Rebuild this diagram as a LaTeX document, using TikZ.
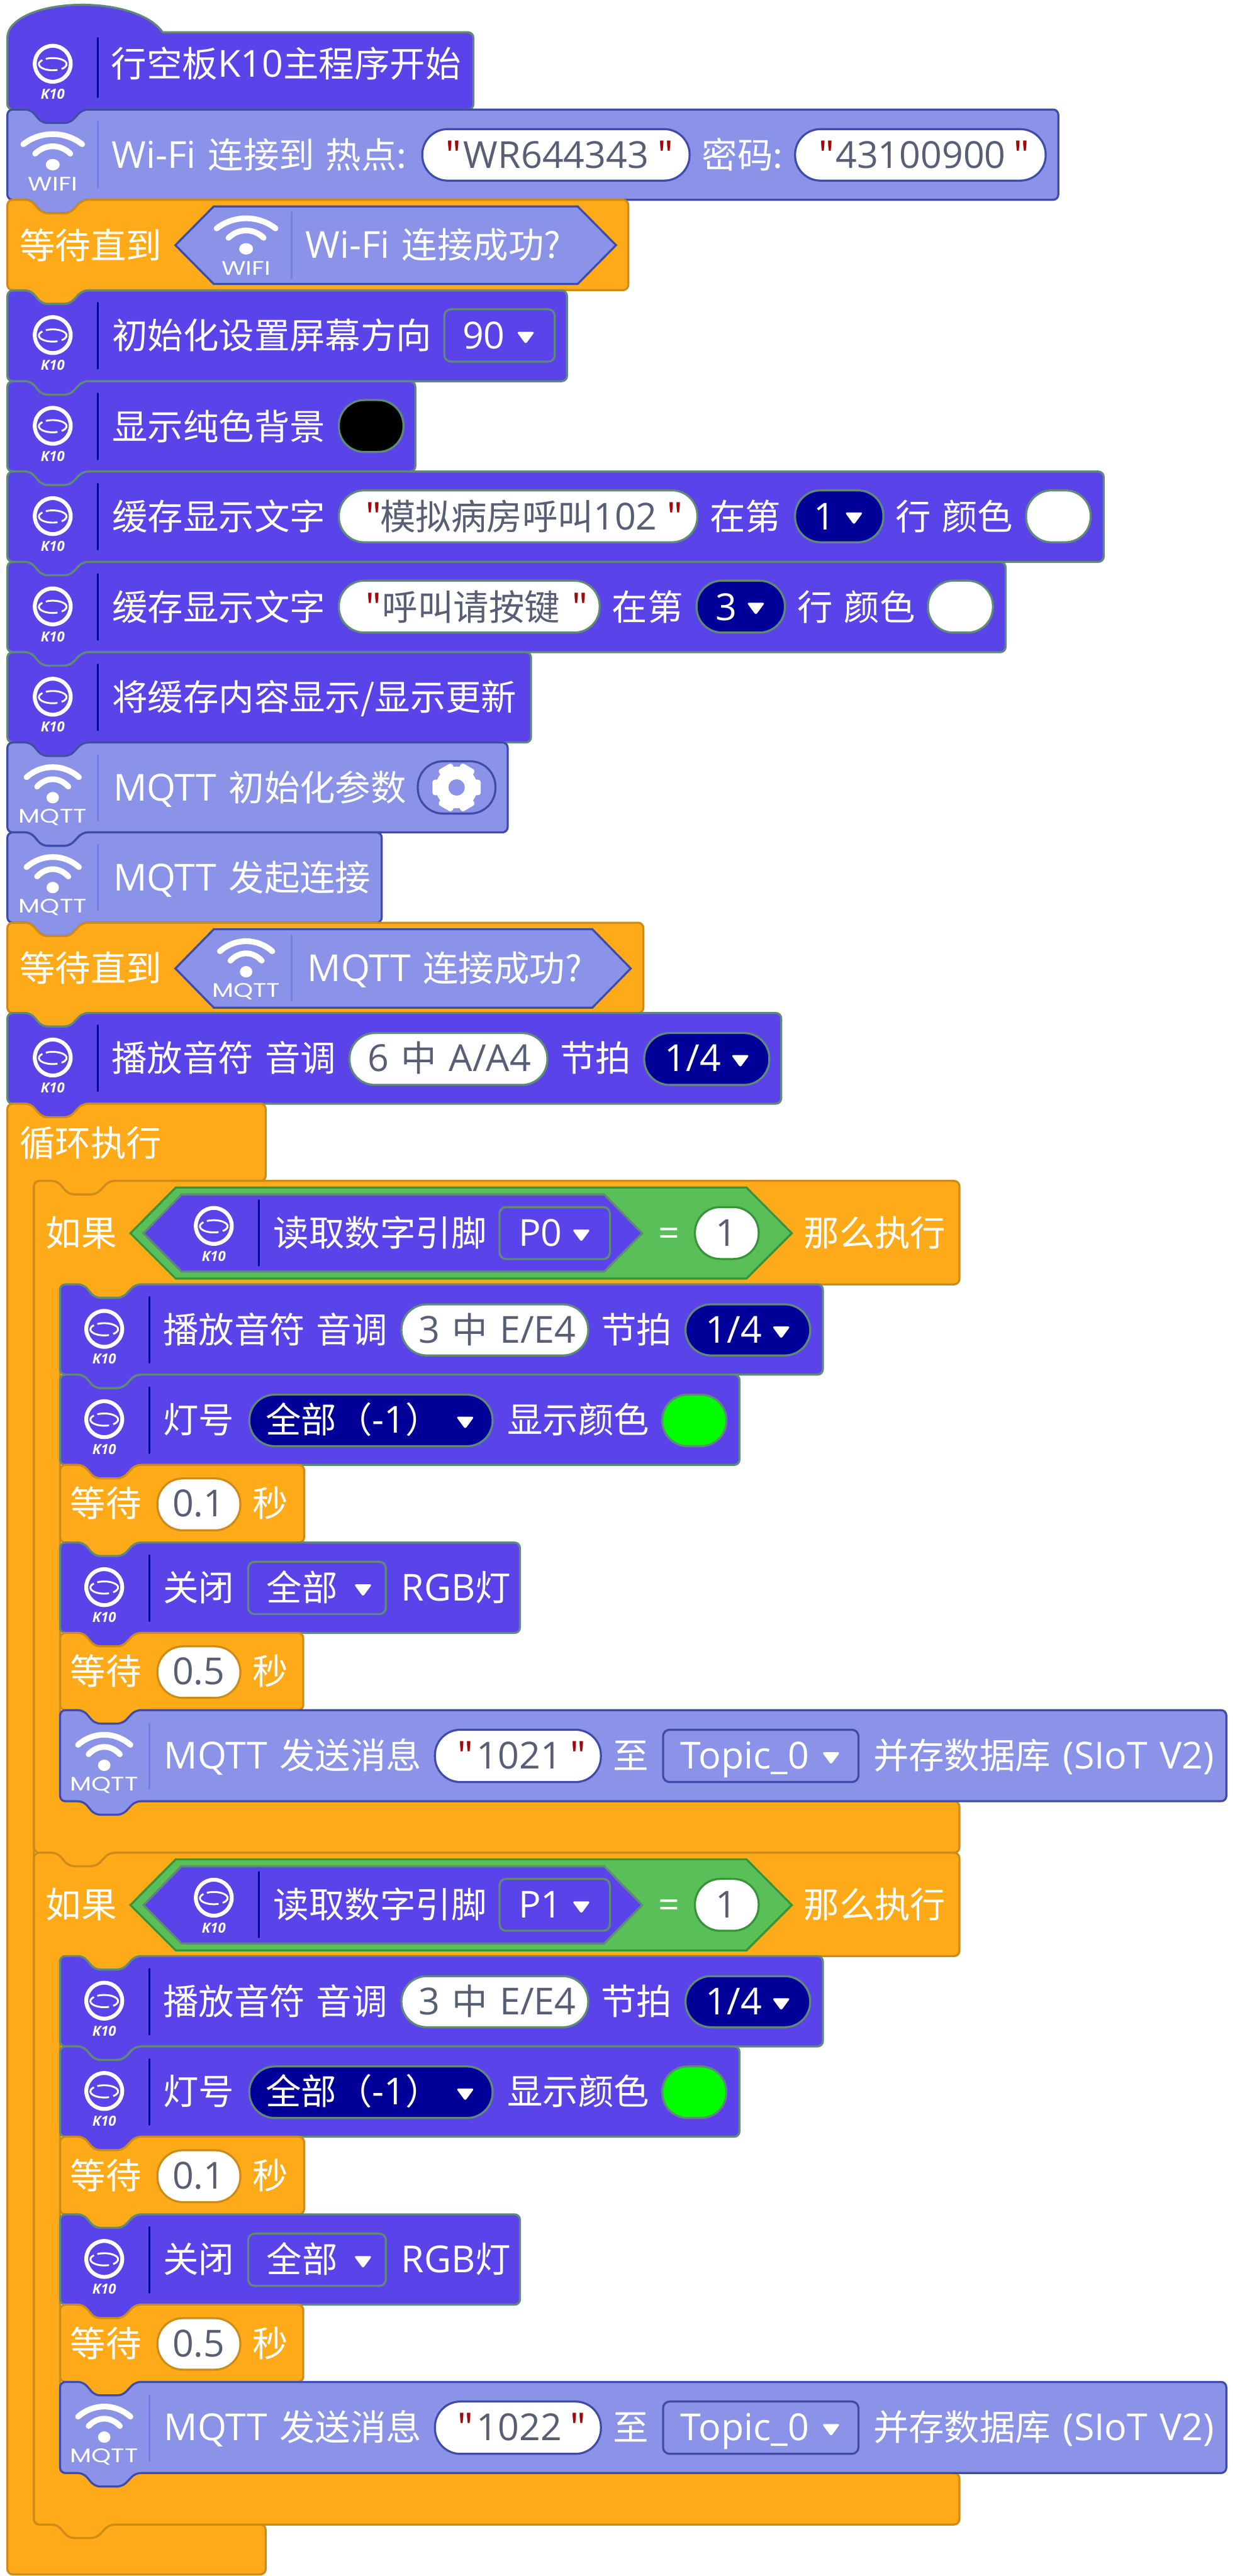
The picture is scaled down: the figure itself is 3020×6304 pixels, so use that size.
\documentclass[tikz,border=0pt]{standalone}
\usepackage{graphicx}
\usepackage{fontspec}
\setmainfont[WordSpace=1.25]{Open Sans}
\newfontfamily\cjk[Scale=0.955,WordSpace=1.4]{Noto Sans CJK SC}
\newfontfamily\iconfont{Poppins}
\definecolor{purp}{HTML}{5B43EA}
\definecolor{purpb}{HTML}{5F8A78}
\definecolor{wifi}{HTML}{8B93E8}
\definecolor{wifib}{HTML}{3F4BA8}
\definecolor{ora}{HTML}{FFAB19}
\definecolor{orab}{HTML}{CF8B17}
\definecolor{grn}{HTML}{59C059}
\definecolor{grnb}{HTML}{389438}
\definecolor{navy}{HTML}{000099}
\definecolor{strtxt}{HTML}{575E75}
\definecolor{quo}{HTML}{A00A0A}
\definecolor{dvw}{HTML}{7180E0}
\definecolor{lime2}{HTML}{00FF00}
\newcounter{nid}
\newcommand\C[1]{{\cjk #1}}
\newcommand\T[4][white]{\stepcounter{nid}\node[lab,text=#1] (n\arabic{nid}) at (#2,#3) {#4};}
\newcommand\TC[4][strtxt]{\stepcounter{nid}\node[labc,text=#1] (n\arabic{nid}) at (#2,#3) {#4};}
\newcommand\Q[2]{\T[quo]{#1}{#2}{\C{"}}}
\newcommand\blk[5]{\draw[#1,rounded corners=13] (#2,{#3+60}) -- (#2,#3) -- ({#2+57},#3) -- ({#2+85},{#3+33}) -- ({#2+153},{#3+33}) -- ({#2+184},#3) -- (#4,#3) -- (#4,#5) -- ({#2+184},#5) -- ({#2+153},{#5+33}) -- ({#2+85},{#5+33}) -- ({#2+57},#5) -- (#2,#5) -- cycle;}
\newcommand\kicon[2]{%
  \draw[white,line width=9.5] (#1,{#2+109}) circle (44);
  \begin{scope}[shift={(#1,{#2+110})}]
    \draw[white,line width=4.5] (240:34 and 15) arc[start angle=240,end angle=410,x radius=34,y radius=15];
    \draw[white,line width=4.5] (70:34 and 15) arc[start angle=70,end angle=222,x radius=34,y radius=15];
  \end{scope}
  \stepcounter{nid}\node[inner sep=0,text=white,font=\fontsize{34}{36}\selectfont\bfseries\itshape] (n\arabic{nid}) at (#1,{#2+183}) {K10};}
\newcommand\wicon[4]{%
  \begin{scope}[shift={(#1,#2)},xscale=#4]
    \draw[white,line width=14,line cap=round] (-72,85) .. controls (-30,52) and (30,52) .. (72,85);
    \draw[white,line width=14,line cap=round] (-43,108) .. controls (-18,84) and (18,84) .. (43,108);
    \fill[white] (0,135) ellipse (17 and 14);
  \end{scope}
  \stepcounter{nid}\node[inner sep=0,text=white,font=\fontsize{48}{50}\iconfont\selectfont] (n\arabic{nid}) at (#1,{#2+183}) {\scalebox{1.27}[1]{#3}};}
\newcommand\dvp[3]{\draw[navy,line width=4.5,line cap=round] (#1,#2) -- (#1,#3);}
\newcommand\dvq[3]{\draw[dvw,line width=4.5,line cap=round] (#1,#2) -- (#1,#3);}
\newcommand\pill[6]{\draw[line width=5,fill=#1,draw=#2,rounded corners=62] (#3,#4) rectangle (#5,#6);}
\newcommand\sq[6]{\draw[line width=5,fill=#1,draw=#2,rounded corners=16] (#3,#4) rectangle (#5,#6);}
\newcommand\tri[2]{\fill[white,rounded corners=5] ({#1-22},{#2-9}) -- ({#1+22},{#2-9}) -- (#1,{#2+21}) -- cycle;}
\newcommand\ifgroup[3]{%
\begin{scope}[yshift=#1]
  % if C-block
  \draw[blockO,rounded corners=13] (83,2950) -- (83,2890) -- (140,2890) -- (168,2923) -- (236,2923) -- (267,2890) -- (2347,2890) -- (2347,3143) -- (331,3143) -- (300,3176) -- (232,3176) -- (204,3143) -- (147,3143) -- (147,4408) -- (2347,4408) -- (2347,4534) -- (267,4534) -- (236,4567) -- (168,4567) -- (140,4534) -- (83,4534) -- cycle;
  \T{112}{3050}{\C{如果}}
  \draw[line width=5,fill=grn,draw=grnb,line join=miter] (319,3018) -- (430,2906) -- (1826,2906) -- (1937,3018) -- (1826,3129) -- (430,3129) -- cycle;
  \draw[line width=5,fill=purp,draw=purpb] (351,3018) -- (444,2923) -- (1478,2923) -- (1571,3018) -- (1478,3112) -- (444,3112) -- cycle;
  \kicon{523}{2891}
  \dvp{634}{2937}{3097}
  \T{669}{3050}{\C{读取数字引脚}}
  \sq{purp}{purpb}{1222}{2954}{1492}{3081}
  \T{1268}{3050}{#2}
  \tri{1422}{3018}
  \TC[white]{1636}{3050}{=}
  \pill{white}{grnb}{1700}{2954}{1856}{3081}
  \TC{1776}{3050}{1}
  \T{1966}{3050}{\C{那么执行}}
  % play note
  \blk{blockP}{147}{3143}{2013}{3364}
  \kicon{255}{3143}
  \dvp{366}{3174}{3335}
  \T{399}{3286}{\C{播放音符 音调}}
  \pill{white}{purpb}{982}{3192}{1439}{3317}
  \T[strtxt]{1024}{3286}{3 \C{中} E/E4}
  \T{1470}{3286}{\C{节拍}}
  \pill{navy}{purpb}{1677}{3192}{1982}{3317}
  \T{1726}{3286}{1/4}
  \tri{1911}{3255}
  % light
  \blk{blockP}{147}{3364}{1809}{3585}
  \kicon{255}{3364}
  \dvp{366}{3395}{3556}
  \T{399}{3507}{\C{灯号}}
  \pill{navy}{purpb}{610}{3413}{1205}{3539}
  \T{650}{3507}{\C{全部（}-1\C{）}}
  \tri{1138}{3476}
  \T{1241}{3507}{\C{显示颜色}}
  \pill{lime2}{purpb}{1620}{3413}{1777}{3539}
  % wait
  \blk{blockO}{147}{3585}{744}{3775}
  \T{172}{3712}{\C{等待}}
  \pill{white}{orab}{385}{3618}{588}{3745}
  \TC{486}{3712}{0.1}
  \T{617}{3712}{\C{秒}}
  % off
  \blk{blockP}{147}{3775}{1272}{3996}
  \kicon{255}{3775}
  \dvp{366}{3806}{3967}
  \T{399}{3918}{\C{关闭}}
  \sq{purp}{purpb}{607}{3822}{944}{3950}
  \T{652}{3918}{\C{全部}}
  \tri{888}{3886}
  \T{981}{3918}{RGB\C{灯}}
  % wait
  \blk{blockO}{147}{3996}{742}{4185}
  \T{172}{4123}{\C{等待}}
  \pill{white}{orab}{385}{4029}{588}{4155}
  \TC{486}{4123}{0.5}
  \T{617}{4123}{\C{秒}}
  % send
  \blk{blockW}{147}{4185}{3000}{4408}
  \wicon{255}{4185}{MQTT}{0.89}
  \dvq{366}{4217}{4378}
  \T{401}{4328}{MQTT \C{发送消息}}
  \pill{white}{wifib}{1064}{4233}{1470}{4361}
  \Q{1118}{4328}
  \T[strtxt]{1166}{4328}{#3}
  \Q{1394}{4328}
  \T{1500}{4328}{\C{至}}
  \sq{wifi}{wifib}{1622}{4233}{2100}{4361}
  \T{1665}{4328}{Topic\_0}
  \tri{2033}{4297}
  \T{2136}{4328}{\C{并存数据库} (SIoT V2)}
\end{scope}}
\tikzset{
  lab/.style={anchor=base west,inner sep=0,font=\fontsize{91}{100}\selectfont},
  labc/.style={anchor=base,inner sep=0,font=\fontsize{91}{100}\selectfont},
  blockP/.style={line width=5,fill=purp,draw=purpb},
  blockW/.style={line width=5,fill=wifi,draw=wifib},
  blockO/.style={line width=5,fill=ora,draw=orab}
}
\begin{document}
\begin{tikzpicture}[x=1pt,y=-1pt]
\useasboundingbox (0,0) rectangle (3020,6304);
% row 1 hat
\draw[blockP,rounded corners=13] (18,120) -- (18,79) [sharp corners] .. controls (80,-9) and (336,-9) .. (398,79) [rounded corners=13] -- (1158,79) -- (1158,268) -- (202,268) -- (171,301) -- (103,301) -- (75,268) -- (18,268) -- cycle;
\kicon{129}{47}
\dvp{239}{93}{238}
\T{272}{189}{\C{行空板}K10\C{主程序开始}}
% row 2
\blk{blockW}{18}{268}{2589}{489}
\wicon{129}{268}{WIFI}{1}
\dvq{239}{298}{460}
\T{273}{411}{Wi-Fi \C{连接到 热点:}}
\pill{white}{wifib}{1033}{316}{1687}{442}
\Q{1088}{411}
\T[strtxt]{1134}{411}{WR644343}
\Q{1608}{411}
\T{1717}{411}{\C{密码:}}
\pill{white}{wifib}{1945}{316}{2558}{442}
\Q{2001}{411}
\T[strtxt]{2044}{411}{43100900}
\Q{2479}{411}
% row 3
\blk{blockO}{18}{489}{1537}{710}
\T{48}{633}{\C{等待直到}}
\draw[line width=5,fill=wifi,draw=wifib] (429,600) -- (523,505) -- (1413,505) -- (1507,600) -- (1413,695) -- (523,695) -- cycle;
\wicon{602}{474}{WIFI}{1}
\dvq{714}{520}{681}
\T{747}{632}{Wi-Fi \C{连接成功?}}
% row 4
\blk{blockP}{18}{711}{1387}{933}
\kicon{129}{711}
\dvp{239}{741}{902}
\T{274}{854}{\C{初始化设置屏幕方向}}
\sq{purp}{purpb}{1087}{757}{1357}{885}
\T{1131}{854}{90}
\tri{1286}{821}
% row 5
\blk{blockP}{18}{933}{1016}{1154}
\kicon{129}{933}
\dvp{239}{963}{1124}
\T{274}{1076}{\C{显示纯色背景}}
\pill{black}{purpb}{829}{979}{987}{1106}
% row 6
\blk{blockP}{18}{1154}{2700}{1375}
\kicon{129}{1154}
\dvp{239}{1184}{1345}
\T{274}{1297}{\C{缓存显示文字}}
\pill{white}{purpb}{829}{1200}{1706}{1327}
\Q{893}{1297}
\T[strtxt]{930}{1297}{\C{模拟病房呼叫}102}
\Q{1630}{1297}
\T{1736}{1297}{\C{在第}}
\pill{navy}{purpb}{1945}{1200}{2161}{1327}
\T{1990}{1297}{1}
\tri{2089}{1263}
\T{2190}{1297}{\C{行 颜色}}
\pill{white}{purpb}{2510}{1200}{2668}{1327}
% row 7
\blk{blockP}{18}{1375}{2460}{1596}
\kicon{129}{1375}
\dvp{239}{1405}{1566}
\T{274}{1518}{\C{缓存显示文字}}
\pill{white}{purpb}{829}{1421}{1467}{1548}
\Q{893}{1518}
\T[strtxt]{935}{1518}{\C{呼叫请按键}}
\Q{1398}{1518}
\T{1497}{1518}{\C{在第}}
\pill{navy}{purpb}{1704}{1421}{1920}{1548}
\T{1750}{1518}{3}
\tri{1849}{1484}
\T{1951}{1518}{\C{行 颜色}}
\pill{white}{purpb}{2270}{1421}{2429}{1548}
% row 8
\blk{blockP}{18}{1596}{1299}{1817}
\kicon{129}{1596}
\dvp{239}{1626}{1787}
\T{274}{1739}{\C{将缓存内容显示/显示更新}}
% row 9
\blk{blockW}{18}{1817}{1242}{2037}
\wicon{129}{1817}{MQTT}{0.89}
\dvq{239}{1847}{2008}
\T{277}{1960}{MQTT \C{初始化参数}}
\pill{wifi}{wifib}{1022}{1863}{1212}{1991}
\begin{scope}[shift={(1117,1927)}]
  \fill[white] (0,0) circle (51);
  \foreach \a in {0,60,120,180,240,300}
    \fill[white,rotate=\a,rounded corners=6] (38,-19) rectangle (59,19);
  \fill[wifi] (0,0) circle (20);
\end{scope}
% row 10
\blk{blockW}{18}{2037}{934}{2258}
\wicon{129}{2037}{MQTT}{0.89}
\dvq{239}{2067}{2228}
\T{277}{2180}{MQTT \C{发起连接}}
% row 11
\blk{blockO}{18}{2258}{1574}{2479}
\T{48}{2401}{\C{等待直到}}
\draw[line width=5,fill=wifi,draw=wifib] (429,2370) -- (523,2274) -- (1449,2274) -- (1543,2370) -- (1449,2466) -- (523,2466) -- cycle;
\wicon{602}{2243}{MQTT}{0.89}
\dvq{714}{2289}{2450}
\T{752}{2401}{MQTT \C{连接成功?}}
% row 12
\blk{blockP}{18}{2479}{1911}{2701}
\kicon{129}{2479}
\dvp{239}{2509}{2670}
\T{273}{2622}{\C{播放音符 音调}}
\pill{white}{purpb}{855}{2528}{1339}{2655}
\T[strtxt]{900}{2622}{6 \C{中} A/A4}
\T{1370}{2622}{\C{节拍}}
\pill{navy}{purpb}{1576}{2528}{1882}{2655}
\T{1626}{2622}{1/4}
\tri{1811}{2591}
% forever
\draw[blockO,rounded corners=13] (18,2760) -- (18,2701) -- (75,2701) -- (103,2734) -- (171,2734) -- (202,2701) -- (650,2701) -- (650,2890) -- (267,2890) -- (236,2923) -- (168,2923) -- (140,2890) -- (83,2890) -- (83,6178) -- (650,6178) -- (650,6300) -- (18,6300) -- cycle;
\T{48}{2830}{\C{循环执行}}
\ifgroup{0pt}{P0}{1021}
\ifgroup{-1644pt}{P1}{1022}
\end{tikzpicture}
\end{document}
